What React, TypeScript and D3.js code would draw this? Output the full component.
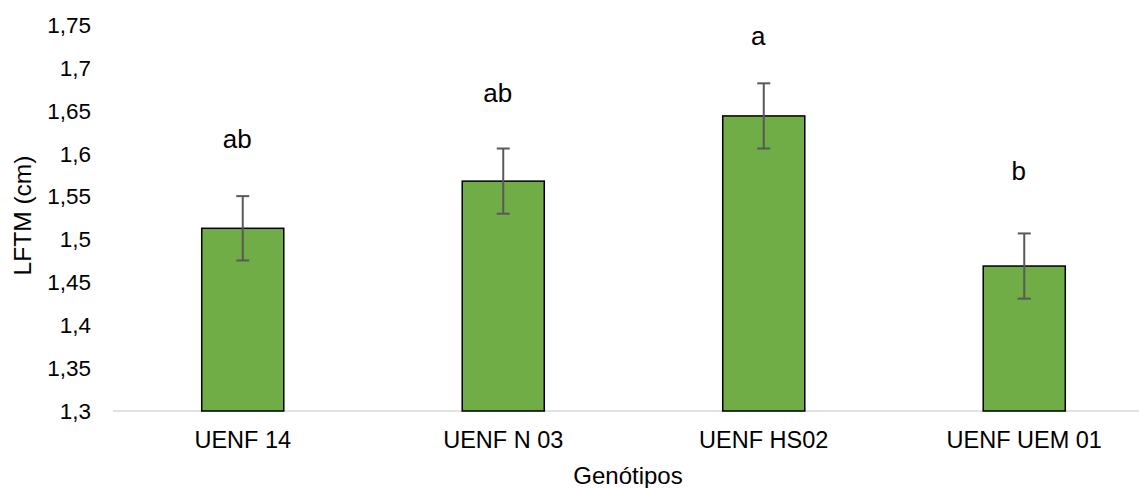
import React from "react";
import * as d3 from "d3";

const categories = ["UENF 14", "UENF N 03", "UENF HS02", "UENF UEM 01"];
const means = [1.513, 1.568, 1.644, 1.469];
const errors = [0.0375, 0.038, 0.038, 0.038];
const letters = ["ab", "ab", "a", "b"];
const letterValues = [1.6066, 1.6606, 1.7267, 1.5693];
const yTicks = [1.3, 1.35, 1.4, 1.45, 1.5, 1.55, 1.6, 1.65, 1.7, 1.75];

const W = 1139;
const H = 488;
const font = "'Liberation Sans', Arial, sans-serif";

export default function App() {
  const x = d3.scaleBand<string>().domain(categories).range([112.5, 1154.5]).paddingInner(0.685).paddingOuter(0.3425);
  const y = d3.scaleLinear().domain([1.3, 1.75]).range([411, 25]);
  const fmt = (v: number) => d3.format("")(+v.toFixed(2)).replace(".", ",");
  const bw = x.bandwidth();
  return (
    <svg width={W} height={H} style={{ position: "absolute", left: 0, top: 0 }} fontFamily={font}>
      <rect width={W} height={H} fill="#fff" />
      {yTicks.map((t) => (
        <text key={t} x={91} y={y(t)} dy="0.35em" textAnchor="end" fontSize={22.5} fill="#000">
          {fmt(t)}
        </text>
      ))}
      <line x1={113} x2={W} y1={y(1.3)} y2={y(1.3)} stroke="#d9d9d9" strokeWidth={1.5} />
      {categories.map((c, i) => {
        const cx = (x(c) as number) + bw / 2;
        return (
          <g key={c}>
            <rect x={x(c)} y={y(means[i])} width={bw} height={y(1.3) - y(means[i])} fill="#70AD47" stroke="#000" strokeWidth={1.5} />
            <line x1={cx} x2={cx} y1={y(means[i] + errors[i])} y2={y(means[i] - errors[i])} stroke="#595959" strokeWidth={2} />
            <line x1={cx - 6.5} x2={cx + 6.5} y1={y(means[i] + errors[i])} y2={y(means[i] + errors[i])} stroke="#595959" strokeWidth={2} />
            <line x1={cx - 6.5} x2={cx + 6.5} y1={y(means[i] - errors[i])} y2={y(means[i] - errors[i])} stroke="#595959" strokeWidth={2} />
            <text x={cx - 5.5} y={y(letterValues[i])} textAnchor="middle" fontSize={26} fill="#000">
              {letters[i]}
            </text>
            <text x={cx} y={448} textAnchor="middle" fontSize={23.5} fill="#000">
              {c}
            </text>
          </g>
        );
      })}
      <text x={628} y={484} textAnchor="middle" fontSize={24} fill="#000">Genótipos</text>
      <text transform={`translate(31,215.5) rotate(-90)`} textAnchor="middle" fontSize={24.5} fill="#000">LFTM (cm)</text>
    </svg>
  );
}
